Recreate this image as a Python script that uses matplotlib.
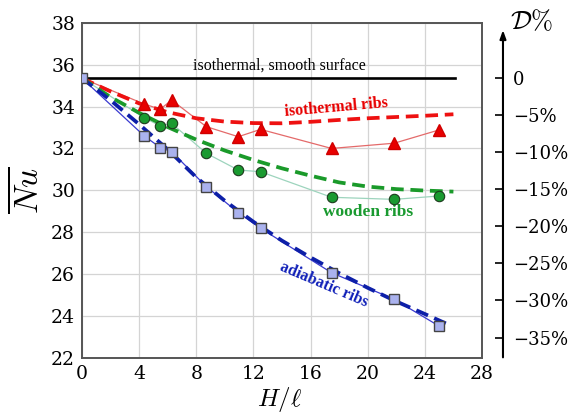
import matplotlib
matplotlib.use("Agg")
import matplotlib.pyplot as plt

# ---------------- data ----------------
nu_smooth = 35.35
smooth_x = [0, 26.1]

rib_x = [0, 4.35, 5.48, 6.27, 8.7, 10.94, 12.5, 17.47, 21.86, 24.98]
iso_ribs = [35.35, 34.12, 33.87, 34.31, 33.04, 32.56, 32.91, 32.0, 32.25, 32.88]
wood_ribs = [35.35, 33.47, 33.07, 33.2, 31.77, 30.97, 30.89, 29.67, 29.57, 29.73]
adia_ribs = [35.35, 32.6, 32.04, 31.85, 30.18, 28.94, 28.19, 26.07, 24.8, 23.53]

fit_x = [0, 2, 4, 6, 8, 10, 12, 14, 16, 18, 20, 22, 24, 26]
iso_fit = [35.35, 34.72, 34.15, 33.73, 33.44, 33.28, 33.21, 33.2, 33.27, 33.36, 33.44, 33.5, 33.56, 33.63]
wood_fit = [35.35, 34.45, 33.7, 33.02, 32.42, 31.9, 31.45, 31.05, 30.7, 30.38, 30.18, 30.06, 29.99, 29.94]
adia_fit_x = [0, 2, 4, 6, 8, 10, 12, 14, 16, 18, 20, 22, 24, 25.8]
adia_fit = [35.35, 34.3, 33.15, 31.95, 30.62, 29.5, 28.5, 27.6, 26.8, 26.05, 25.35, 24.7, 24.1, 23.55]

x_ticks = [0, 4, 8, 12, 16, 20, 24, 28]
y_ticks = [22, 24, 26, 28, 30, 32, 34, 36, 38]
d_ticks = [0, -5, -10, -15, -20, -25, -30, -35]
d_labels = ["0", "\u22125%", "\u221210%", "\u221215%", "\u221220%", "\u221225%", "\u221230%", "\u221235%"]

# ---------------- figure ----------------
plt.rcParams["mathtext.fontset"] = "cm"
fig = plt.figure(figsize=(5.71, 4.18), dpi=100)
ax = fig.add_axes([0.1436, 0.1435, 0.7005, 0.8022])

ax.set_xlim(0, 28)
ax.set_ylim(22, 38)
ax.set_xticks(x_ticks)
ax.set_yticks(y_ticks)
ax.grid(True, color="#d4d4d4", lw=0.9)
ax.set_axisbelow(True)
for s in ax.spines.values():
    s.set_color("#555555")
    s.set_linewidth(1.4)
ax.tick_params(length=0, pad=5, labelsize=13.5)
for lab in ax.get_xticklabels() + ax.get_yticklabels():
    lab.set_family("DejaVu Serif")

# smooth surface line
ax.plot(smooth_x, [nu_smooth, nu_smooth], color="black", lw=1.9, zorder=3)

# thin connecting lines
ax.plot(rib_x, iso_ribs, color="#e46a6a", lw=0.9, zorder=3)
ax.plot(rib_x, wood_ribs, color="#9dd4bd", lw=0.9, zorder=3)
ax.plot(rib_x, adia_ribs, color="#3a3ad0", lw=0.9, zorder=3)

# dashed fits
dash = (3.4, 1.8)
ax.plot(fit_x, iso_fit, color="#ee1111", lw=2.7, dashes=dash, zorder=4)
ax.plot(fit_x, wood_fit, color="#1a9a2a", lw=2.7, dashes=dash, zorder=4)
ax.plot(adia_fit_x, adia_fit, color="#0d1fa8", lw=2.7, dashes=dash, zorder=4)

# markers
ax.plot(rib_x[1:], iso_ribs[1:], ls="none", marker="^", ms=8, color="#e80000",
        mec="#d00000", zorder=5)
ax.plot(rib_x[1:], wood_ribs[1:], ls="none", marker="o", ms=7.5, color="#1a9a30",
        mec="#1c3a1c", mew=0.8, zorder=5)
ax.plot(rib_x, adia_ribs, ls="none", marker="s", ms=7.5, color="#aab2ee",
        mec="#444444", mew=1.0, zorder=6)

# annotations
ax.text(13.8, 35.55, "isothermal, smooth surface", family="Liberation Serif",
        fontsize=11.5, ha="center", va="bottom", color="black")
ax.text(17.8, 33.95, "isothermal ribs", family="Liberation Serif", fontweight="bold",
        fontsize=11.5, ha="center", va="center", color="#e80000", rotation=5)
ax.text(20.0, 28.97, "wooden ribs", family="Liberation Serif", fontweight="bold",
        fontsize=12.5, ha="center", va="center", color="#1a9a30")
ax.text(16.9, 25.5, "adiabatic ribs", family="Liberation Serif", fontweight="bold",
        fontsize=11.5, ha="center", va="center", color="#1020b8", rotation=-23)

# axis labels
fig.text(28 / 571, 1 - 190 / 418, r"$\overline{Nu}$", fontsize=24, rotation=90,
         ha="center", va="center")
fig.text(280 / 571, 1 - 400 / 418, r"$H/\ell$", fontsize=18, ha="center", va="center")
fig.text(531 / 571, 1 - 22 / 418, r"$\mathcal{D}\%$", fontsize=19, ha="center", va="center")

# right D% axis
ax2 = ax.twinx()
ax2.set_position(ax.get_position())
lo = (22 / nu_smooth - 1) * 100
hi = (38 / nu_smooth - 1) * 100
ax2.set_ylim(lo, hi)
ax2.set_yticks(d_ticks)
ax2.set_yticklabels(d_labels)
for k in ["top", "left", "bottom"]:
    ax2.spines[k].set_visible(False)
ax2.spines["right"].set_position(("axes", 1.0525))
ax2.spines["right"].set_visible(False)
ax2.tick_params(axis="y", direction="in", length=6, width=1.2, pad=7,
                labelsize=13, colors="black")
for lab in ax2.get_yticklabels():
    lab.set_family("DejaVu Serif")
ax2.annotate("", xy=(1.0525, 0.978), xytext=(1.0525, 0.002), xycoords="axes fraction",
             arrowprops=dict(arrowstyle="-|>,head_length=0.5,head_width=0.18",
                             color="black", lw=1.5, shrinkA=0, shrinkB=0))

fig.savefig("out.png", dpi=100)
